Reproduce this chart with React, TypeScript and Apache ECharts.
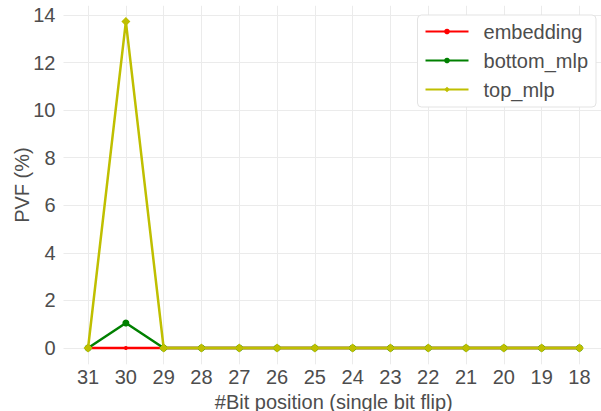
import React, { useEffect, useRef } from "react";
import * as echarts from "echarts";

const bitPositions = [31, 30, 29, 28, 27, 26, 25, 24, 23, 22, 21, 20, 19, 18];
const embedding = [0, 0, 0, 0, 0, 0, 0, 0, 0, 0, 0, 0, 0, 0];
const bottomMlp = [0, 1.05, 0, 0, 0, 0, 0, 0, 0, 0, 0, 0, 0, 0];
const topMlp = [0, 13.72, 0, 0, 0, 0, 0, 0, 0, 0, 0, 0, 0, 0];
const yTicks = [0, 2, 4, 6, 8, 10, 12, 14];

const TEXT = "#4d4d4d";
const FONT = "Liberation Sans";

export default function App() {
  const ref = useRef<HTMLDivElement>(null);
  useEffect(() => {
    const chart = echarts.init(ref.current!, null, { renderer: "svg" });
    const pairs = (vals: number[]) => bitPositions.map((b, i) => [b, vals[i]]);
    chart.setOption({
      animation: false,
      backgroundColor: "#ffffff",
      textStyle: { fontFamily: FONT },
      grid: {
        left: 63.5,
        top: 5.8,
        width: 540.5,
        height: 358.5,
        containLabel: false,
        outerBoundsMode: "none",
      },
      xAxis: {
        type: "value",
        inverse: true,
        min: 17.35,
        max: 31.65,
        name: "#Bit position (single bit flip)",
        nameLocation: "middle",
        nameMoveOverlap: false,
        nameGap: 28,
        nameTextStyle: { color: TEXT, fontSize: 20, fontFamily: FONT },
        axisLine: { show: false },
        axisTick: { show: false, customValues: bitPositions },
        axisLabel: { customValues: bitPositions, color: TEXT, fontSize: 20, margin: 3, fontFamily: FONT },
        splitLine: { show: true, lineStyle: { color: "#ebebeb", width: 1 } },
      },
      yAxis: {
        type: "value",
        min: -0.685,
        max: 14.385,
        name: "PVF (%)",
        nameLocation: "middle",
        nameMoveOverlap: false,
        nameGap: 32,
        nameTextStyle: { color: TEXT, fontSize: 20, fontFamily: FONT },
        axisLine: { show: false },
        axisTick: { show: false, customValues: yTicks },
        axisLabel: { customValues: yTicks, color: TEXT, fontSize: 20, margin: 8, fontFamily: FONT },
        splitLine: { show: true, lineStyle: { color: "#ebebeb", width: 1 } },
      },
      legend: {
        orient: "vertical",
        right: 5,
        top: 15,
        itemWidth: 43,
        itemHeight: 7,
        itemGap: 8,
        padding: [6, 8, 7, 7],
        backgroundColor: "#ffffff",
        borderColor: "#e3e3e3",
        borderWidth: 1,
        borderRadius: 4,
        textStyle: { color: TEXT, fontSize: 20, fontFamily: FONT, padding: [0, 0, 0, 10], lineHeight: 21 },
        data: ["embedding", "bottom_mlp", "top_mlp"],
      },
      series: [
        {
          name: "embedding",
          type: "line",
          data: pairs(embedding),
          symbol: "circle",
          symbolSize: 4,
          showSymbol: true,
          lineStyle: { color: "#ff0000", width: 2.5 },
          itemStyle: { color: "#ff0000" },
        },
        {
          name: "bottom_mlp",
          type: "line",
          data: pairs(bottomMlp),
          symbol: "circle",
          symbolSize: 7,
          lineStyle: { color: "#008000", width: 2.5 },
          itemStyle: { color: "#008000" },
        },
        {
          name: "top_mlp",
          type: "line",
          data: pairs(topMlp),
          symbol: "diamond",
          symbolSize: 9,
          lineStyle: { color: "#bfbf00", width: 2.5 },
          itemStyle: { color: "#bfbf00" },
        },
      ],
    });
    return () => chart.dispose();
  }, []);
  return (
    <div
      ref={ref}
      style={{ width: 601, height: 411, position: "fixed", left: 0, top: 0 }}
    />
  );
}
